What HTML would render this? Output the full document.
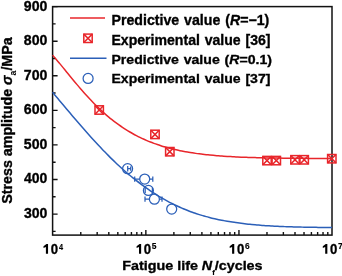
<!DOCTYPE html>
<html><head><meta charset="utf-8"><style>
html,body{margin:0;padding:0;background:#fff;width:342px;height:276px;overflow:hidden}
svg{display:block;will-change:transform}
text{font-family:"Liberation Sans",sans-serif;font-weight:bold;fill:#000;stroke:#000;stroke-width:0.35px}
</style></head><body>
<svg width="342" height="276" viewBox="0 0 342 276">
<path d="M52.6 214.08h5 M52.6 179.50h5 M52.6 144.92h5 M52.6 110.34h5 M52.6 75.76h5 M52.6 41.18h5 M52.6 6.60h5 M52.6 231.37h3 M52.6 196.79h3 M52.6 162.21h3 M52.6 127.63h3 M52.6 93.05h3 M52.6 58.47h3 M52.6 23.89h3 M80.78 235.1v-3 M97.17 235.1v-3 M108.80 235.1v-3 M117.82 235.1v-3 M125.20 235.1v-3 M131.43 235.1v-3 M136.83 235.1v-3 M141.59 235.1v-3 M173.88 235.1v-3 M190.27 235.1v-3 M201.90 235.1v-3 M210.92 235.1v-3 M218.30 235.1v-3 M224.53 235.1v-3 M229.93 235.1v-3 M234.69 235.1v-3 M145.85 235.1v-5 M266.98 235.1v-3 M283.37 235.1v-3 M295.00 235.1v-3 M304.02 235.1v-3 M311.40 235.1v-3 M317.63 235.1v-3 M323.03 235.1v-3 M327.79 235.1v-3 M238.95 235.1v-5" stroke="#111" stroke-width="1.4" fill="none"/>
<rect x="52.6" y="6.6" width="279.40" height="228.50" stroke="#111" stroke-width="1.5" fill="none"/>
<path d="M52.60 55.19 C53.18 55.86 54.93 57.83 56.09 59.20 C57.26 60.56 58.42 61.96 59.59 63.37 C60.75 64.77 61.91 66.20 63.08 67.62 C64.24 69.05 65.41 70.49 66.57 71.92 C67.73 73.35 68.90 74.78 70.06 76.20 C71.23 77.63 72.39 79.05 73.56 80.45 C74.72 81.86 75.88 83.25 77.05 84.63 C78.21 86.01 79.38 87.38 80.54 88.72 C81.70 90.07 82.87 91.40 84.03 92.71 C85.20 94.02 86.36 95.31 87.53 96.57 C88.69 97.84 89.85 99.09 91.02 100.31 C92.18 101.53 93.35 102.73 94.51 103.91 C95.67 105.08 96.84 106.23 98.00 107.36 C99.17 108.48 100.33 109.58 101.50 110.66 C102.66 111.74 103.82 112.79 104.99 113.81 C106.15 114.84 107.32 115.84 108.48 116.81 C109.64 117.79 110.81 118.74 111.97 119.66 C113.14 120.59 114.30 121.49 115.47 122.37 C116.63 123.24 117.79 124.09 118.96 124.92 C120.12 125.75 121.29 126.55 122.45 127.33 C123.61 128.12 124.78 128.87 125.94 129.61 C127.11 130.34 128.27 131.06 129.44 131.75 C130.60 132.44 131.76 133.11 132.93 133.75 C134.09 134.40 135.26 135.03 136.42 135.64 C137.58 136.24 138.75 136.83 139.91 137.40 C141.08 137.96 142.24 138.51 143.41 139.04 C144.57 139.57 145.73 140.08 146.90 140.58 C148.06 141.07 149.23 141.55 150.39 142.01 C151.55 142.47 152.72 142.91 153.88 143.34 C155.05 143.77 156.21 144.18 157.38 144.58 C158.54 144.98 159.70 145.36 160.87 145.73 C162.03 146.10 163.20 146.45 164.36 146.80 C165.52 147.14 166.69 147.47 167.85 147.78 C169.02 148.10 170.18 148.40 171.34 148.69 C172.51 148.99 173.67 149.27 174.84 149.54 C176.00 149.81 177.17 150.07 178.33 150.32 C179.49 150.56 180.66 150.80 181.82 151.03 C182.99 151.26 184.15 151.48 185.31 151.69 C186.48 151.90 187.64 152.11 188.81 152.30 C189.97 152.50 191.14 152.68 192.30 152.86 C193.46 153.04 194.63 153.21 195.79 153.37 C196.96 153.54 198.12 153.69 199.28 153.84 C200.45 153.99 201.61 154.13 202.78 154.27 C203.94 154.41 205.11 154.54 206.27 154.67 C207.43 154.79 208.60 154.91 209.76 155.03 C210.93 155.14 212.09 155.25 213.25 155.36 C214.42 155.46 215.58 155.56 216.75 155.66 C217.91 155.75 219.08 155.84 220.24 155.93 C221.40 156.02 222.57 156.10 223.73 156.18 C224.90 156.26 226.06 156.34 227.22 156.41 C228.39 156.48 229.55 156.55 230.72 156.62 C231.88 156.68 233.05 156.75 234.21 156.81 C235.37 156.87 236.54 156.92 237.70 156.98 C238.87 157.03 240.03 157.08 241.19 157.13 C242.36 157.18 243.52 157.23 244.69 157.27 C245.85 157.32 247.02 157.36 248.18 157.40 C249.34 157.44 250.51 157.48 251.67 157.52 C252.84 157.55 254.00 157.59 255.16 157.62 C256.33 157.65 257.49 157.69 258.66 157.72 C259.82 157.75 260.99 157.77 262.15 157.80 C263.31 157.83 264.48 157.85 265.64 157.88 C266.81 157.90 267.97 157.93 269.13 157.95 C270.30 157.97 271.46 157.99 272.63 158.01 C273.79 158.03 274.96 158.05 276.12 158.07 C277.28 158.09 278.45 158.10 279.61 158.12 C280.78 158.14 281.94 158.15 283.10 158.16 C284.27 158.18 285.43 158.19 286.60 158.21 C287.76 158.22 288.93 158.23 290.09 158.24 C291.25 158.26 292.42 158.27 293.58 158.28 C294.75 158.29 295.91 158.30 297.07 158.31 C298.24 158.32 299.40 158.32 300.57 158.33 C301.73 158.34 302.90 158.35 304.06 158.36 C305.22 158.37 306.39 158.37 307.55 158.38 C308.72 158.39 309.88 158.39 311.05 158.40 C312.21 158.40 313.37 158.41 314.54 158.42 C315.70 158.42 316.87 158.43 318.03 158.43 C319.19 158.44 320.36 158.44 321.52 158.44 C322.69 158.45 323.85 158.45 325.01 158.46 C326.18 158.46 327.34 158.46 328.51 158.47 C329.67 158.47 331.42 158.48 332.00 158.48" stroke="#E8262B" stroke-width="1.5" fill="none"/>
<path d="M52.60 92.29 C53.18 92.98 54.93 95.08 56.09 96.47 C57.26 97.86 58.42 99.26 59.59 100.65 C60.75 102.04 61.91 103.43 63.08 104.81 C64.24 106.20 65.41 107.58 66.57 108.96 C67.73 110.34 68.90 111.72 70.06 113.09 C71.23 114.46 72.39 115.82 73.56 117.18 C74.72 118.55 75.88 119.90 77.05 121.25 C78.21 122.60 79.38 123.94 80.54 125.28 C81.70 126.61 82.87 127.95 84.03 129.28 C85.20 130.61 86.36 131.93 87.53 133.24 C88.69 134.55 89.85 135.85 91.02 137.14 C92.18 138.43 93.35 139.71 94.51 140.98 C95.67 142.25 96.84 143.50 98.00 144.75 C99.17 146.00 100.33 147.23 101.50 148.46 C102.66 149.68 103.82 150.89 104.99 152.09 C106.15 153.29 107.32 154.48 108.48 155.65 C109.64 156.82 110.81 157.98 111.97 159.12 C113.14 160.27 114.30 161.40 115.47 162.52 C116.63 163.63 117.79 164.74 118.96 165.82 C120.12 166.90 121.29 167.96 122.45 169.00 C123.61 170.04 124.78 171.06 125.94 172.07 C127.11 173.07 128.27 174.06 129.44 175.04 C130.60 176.01 131.76 176.97 132.93 177.92 C134.09 178.86 135.26 179.79 136.42 180.70 C137.58 181.61 138.75 182.51 139.91 183.38 C141.08 184.26 142.24 185.13 143.41 185.97 C144.57 186.82 145.73 187.65 146.90 188.46 C148.06 189.28 149.23 190.07 150.39 190.85 C151.55 191.64 152.72 192.40 153.88 193.15 C155.05 193.90 156.21 194.63 157.38 195.35 C158.54 196.06 159.70 196.76 160.87 197.44 C162.03 198.13 163.20 198.80 164.36 199.45 C165.52 200.10 166.69 200.74 167.85 201.36 C169.02 201.98 170.18 202.58 171.34 203.17 C172.51 203.77 173.67 204.34 174.84 204.90 C176.00 205.46 177.17 206.00 178.33 206.54 C179.49 207.07 180.66 207.58 181.82 208.08 C182.99 208.59 184.15 209.07 185.31 209.55 C186.48 210.02 187.64 210.48 188.81 210.93 C189.97 211.37 191.14 211.81 192.30 212.23 C193.46 212.65 194.63 213.05 195.79 213.45 C196.96 213.84 198.12 214.22 199.28 214.59 C200.45 214.96 201.61 215.31 202.78 215.65 C203.94 215.99 205.11 216.32 206.27 216.64 C207.43 216.96 208.60 217.26 209.76 217.56 C210.93 217.85 212.09 218.14 213.25 218.41 C214.42 218.69 215.58 218.95 216.75 219.21 C217.91 219.46 219.08 219.71 220.24 219.94 C221.40 220.18 222.57 220.40 223.73 220.62 C224.90 220.84 226.06 221.05 227.22 221.25 C228.39 221.45 229.55 221.64 230.72 221.83 C231.88 222.01 233.05 222.19 234.21 222.36 C235.37 222.53 236.54 222.69 237.70 222.85 C238.87 223.00 240.03 223.15 241.19 223.30 C242.36 223.45 243.52 223.59 244.69 223.73 C245.85 223.87 247.02 224.00 248.18 224.13 C249.34 224.25 250.51 224.37 251.67 224.49 C252.84 224.60 254.00 224.71 255.16 224.82 C256.33 224.92 257.49 225.02 258.66 225.12 C259.82 225.21 260.99 225.30 262.15 225.39 C263.31 225.48 264.48 225.56 265.64 225.64 C266.81 225.72 267.97 225.79 269.13 225.86 C270.30 225.93 271.46 226.00 272.63 226.06 C273.79 226.13 274.96 226.19 276.12 226.25 C277.28 226.30 278.45 226.36 279.61 226.41 C280.78 226.46 281.94 226.51 283.10 226.56 C284.27 226.60 285.43 226.65 286.60 226.69 C287.76 226.73 288.93 226.77 290.09 226.81 C291.25 226.84 292.42 226.88 293.58 226.91 C294.75 226.94 295.91 226.97 297.07 227.00 C298.24 227.03 299.40 227.06 300.57 227.09 C301.73 227.11 302.90 227.14 304.06 227.16 C305.22 227.18 306.39 227.21 307.55 227.23 C308.72 227.25 309.88 227.27 311.05 227.28 C312.21 227.30 313.37 227.32 314.54 227.33 C315.70 227.35 316.87 227.36 318.03 227.38 C319.19 227.39 320.36 227.41 321.52 227.42 C322.69 227.43 323.85 227.44 325.01 227.45 C326.18 227.46 327.34 227.47 328.51 227.48 C329.67 227.49 331.42 227.50 332.00 227.51" stroke="#2B5FB8" stroke-width="1.5" fill="none"/>
<g stroke="#E8262B" stroke-width="1.5" fill="none"><rect x="95.00" y="105.80" width="8.4" height="8.4"/><path d="M95.00 105.80L103.40 114.20M103.40 105.80L95.00 114.20"/><rect x="150.80" y="130.20" width="8.4" height="8.4"/><path d="M150.80 130.20L159.20 138.60M159.20 130.20L150.80 138.60"/><rect x="165.60" y="147.50" width="8.4" height="8.4"/><path d="M165.60 147.50L174.00 155.90M174.00 147.50L165.60 155.90"/><rect x="262.80" y="156.40" width="8.4" height="8.4"/><path d="M262.80 156.40L271.20 164.80M271.20 156.40L262.80 164.80"/><rect x="272.10" y="156.40" width="8.4" height="8.4"/><path d="M272.10 156.40L280.50 164.80M280.50 156.40L272.10 164.80"/><rect x="290.80" y="155.60" width="8.4" height="8.4"/><path d="M290.80 155.60L299.20 164.00M299.20 155.60L290.80 164.00"/><rect x="300.00" y="155.60" width="8.4" height="8.4"/><path d="M300.00 155.60L308.40 164.00M308.40 155.60L300.00 164.00"/><rect x="327.60" y="154.50" width="8.4" height="8.4"/><path d="M327.60 154.50L336.00 162.90M336.00 154.50L327.60 162.90"/><rect x="83.80" y="34.10" width="8.4" height="8.4"/><path d="M83.80 34.10L92.20 42.50M92.20 34.10L83.80 42.50"/></g>
<g stroke="#2B5FB8" stroke-width="1.25" fill="none"><circle cx="127.6" cy="168.7" r="5.0"/><path d="M127.7 165.90v5.6M130.7 166.60v4.2M127.7 168.7H130.7"/><circle cx="144.7" cy="179.1" r="5.0"/><path d="M134.7 176.50v5.2M152.8 176.50v5.2M134.7 179.1H139.70M149.70 179.1H152.8"/><circle cx="148.4" cy="190.4" r="5.0"/><path d="M145.2 187.80v5.2M152.4 187.80v5.2"/><circle cx="154.4" cy="199.2" r="5.0"/><path d="M145.0 196.60v5.2M162.0 196.60v5.2M145.0 199.2H149.40M159.40 199.2H162.0"/><circle cx="171.7" cy="209.1" r="5.0"/><circle cx="88.1" cy="78.4" r="5.0"/></g>
<path d="M48.05 244.0V253.8H45.90V247.0L43.50 248.0V246.2L46.45 244.0ZM141.15 244.0V253.8H139.00V247.0L136.60 248.0V246.2L139.55 244.0ZM234.25 244.0V253.8H232.10V247.0L229.70 248.0V246.2L232.65 244.0ZM327.35 244.0V253.8H325.20V247.0L322.80 248.0V246.2L325.75 244.0Z" fill="#000"/>
<path d="M70 18.1H105" stroke="#E8262B" stroke-width="1.5"/>
<path d="M70 58.3H106.5" stroke="#2B5FB8" stroke-width="1.5"/>
<text id="y300" transform="matrix(0.93936 0.00000 0.00000 1.01751 -70.0319 116.3242)" x="100" y="100" font-size="15">300</text>
<text id="y400" transform="matrix(0.93435 0.00000 0.00000 1.00628 -69.4066 82.8032)" x="100" y="100" font-size="15">400</text>
<text id="y500" transform="matrix(0.94096 0.00000 0.00000 1.01203 -70.2316 47.7066)" x="100" y="100" font-size="15">500</text>
<text id="y600" transform="matrix(0.94377 0.00000 0.00000 1.01594 -70.5810 12.7259)" x="100" y="100" font-size="15">600</text>
<text id="y700" transform="matrix(0.94397 0.00000 0.00000 1.00628 -70.6068 -20.9368)" x="100" y="100" font-size="15">700</text>
<text id="y800" transform="matrix(0.94296 0.00000 0.00000 1.01842 -70.4812 -56.6576)" x="100" y="100" font-size="15">800</text>
<text id="y900" transform="matrix(0.94316 0.00000 0.00000 1.01648 -70.5056 -91.0627)" x="100" y="100" font-size="15">900</text>
<text id="x4" transform="matrix(0.87929 0.00000 0.00000 0.99322 -37.1867 154.6229)" x="100" y="100" font-size="15">0</text>
<text id="s4" transform="matrix(0.91824 0.00000 0.00000 1.12865 -32.9310 136.6701)" x="100" y="100" font-size="8" style="stroke-width:0.15px">4</text>
<text id="x5" transform="matrix(0.87929 0.00000 0.00000 0.99322 55.9133 154.6229)" x="100" y="100" font-size="15">0</text>
<text id="s5" transform="matrix(1.06435 0.00000 0.00000 1.08475 45.2367 140.8740)" x="100" y="100" font-size="8" style="stroke-width:0.15px">5</text>
<text id="x6" transform="matrix(0.87929 0.00000 0.00000 0.99322 149.0133 154.6229)" x="100" y="100" font-size="15">0</text>
<text id="s6" transform="matrix(1.04156 0.00000 0.00000 1.09510 140.7770 139.8574)" x="100" y="100" font-size="8" style="stroke-width:0.15px">6</text>
<text id="x7" transform="matrix(0.87929 0.00000 0.00000 0.99322 242.1133 154.6229)" x="100" y="100" font-size="15">0</text>
<text id="s7" transform="matrix(1.07383 0.00000 0.00000 1.08195 230.5539 141.2152)" x="100" y="100" font-size="8" style="stroke-width:0.15px">7</text>
<text id="xt" transform="matrix(1.02425 0.00000 0.00000 0.97315 19.8557 173.0525)" x="100" y="100" font-size="14">Fatigue life <tspan font-style="italic">N</tspan><tspan dy="4.6" font-size="7.5" style="stroke-width:0.15px">f</tspan><tspan dy="-4.6">/cycles</tspan></text>
<text id="yt" transform="matrix(1.00000 0.00000 0.00000 1.01926 -88.4929 -30.6680) translate(100 230) rotate(-90)" font-size="14">Stress amplitude <tspan font-style="italic">σ</tspan><tspan dy="4.2" font-size="8.5" style="stroke-width:0.1px">a</tspan><tspan dy="-4.2">/MPa</tspan></text>
<text id="l0" transform="matrix(0.97843 0.00000 0.00000 0.98360 13.6257 -72.9757)" x="100" y="100" font-size="14.5" word-spacing="0.9">Predictive value (<tspan font-style="italic">R</tspan>=−1)</text>
<text id="l1" transform="matrix(0.97119 0.00000 0.00000 0.96267 14.3562 -51.5167)" x="100" y="100" font-size="14.5" word-spacing="0.9">Experimental value [36]</text>
<text id="l2" transform="matrix(0.97342 0.00000 0.00000 0.94175 14.1311 -30.2576)" x="100" y="100" font-size="14.5" word-spacing="0.9">Predictive value (<tspan font-style="italic">R</tspan>=0.1)</text>
<text id="l3" transform="matrix(0.97119 0.00000 0.00000 0.93477 14.3562 -10.1379)" x="100" y="100" font-size="14.5" word-spacing="0.9">Experimental value [37]</text>
</svg>
</body></html>
